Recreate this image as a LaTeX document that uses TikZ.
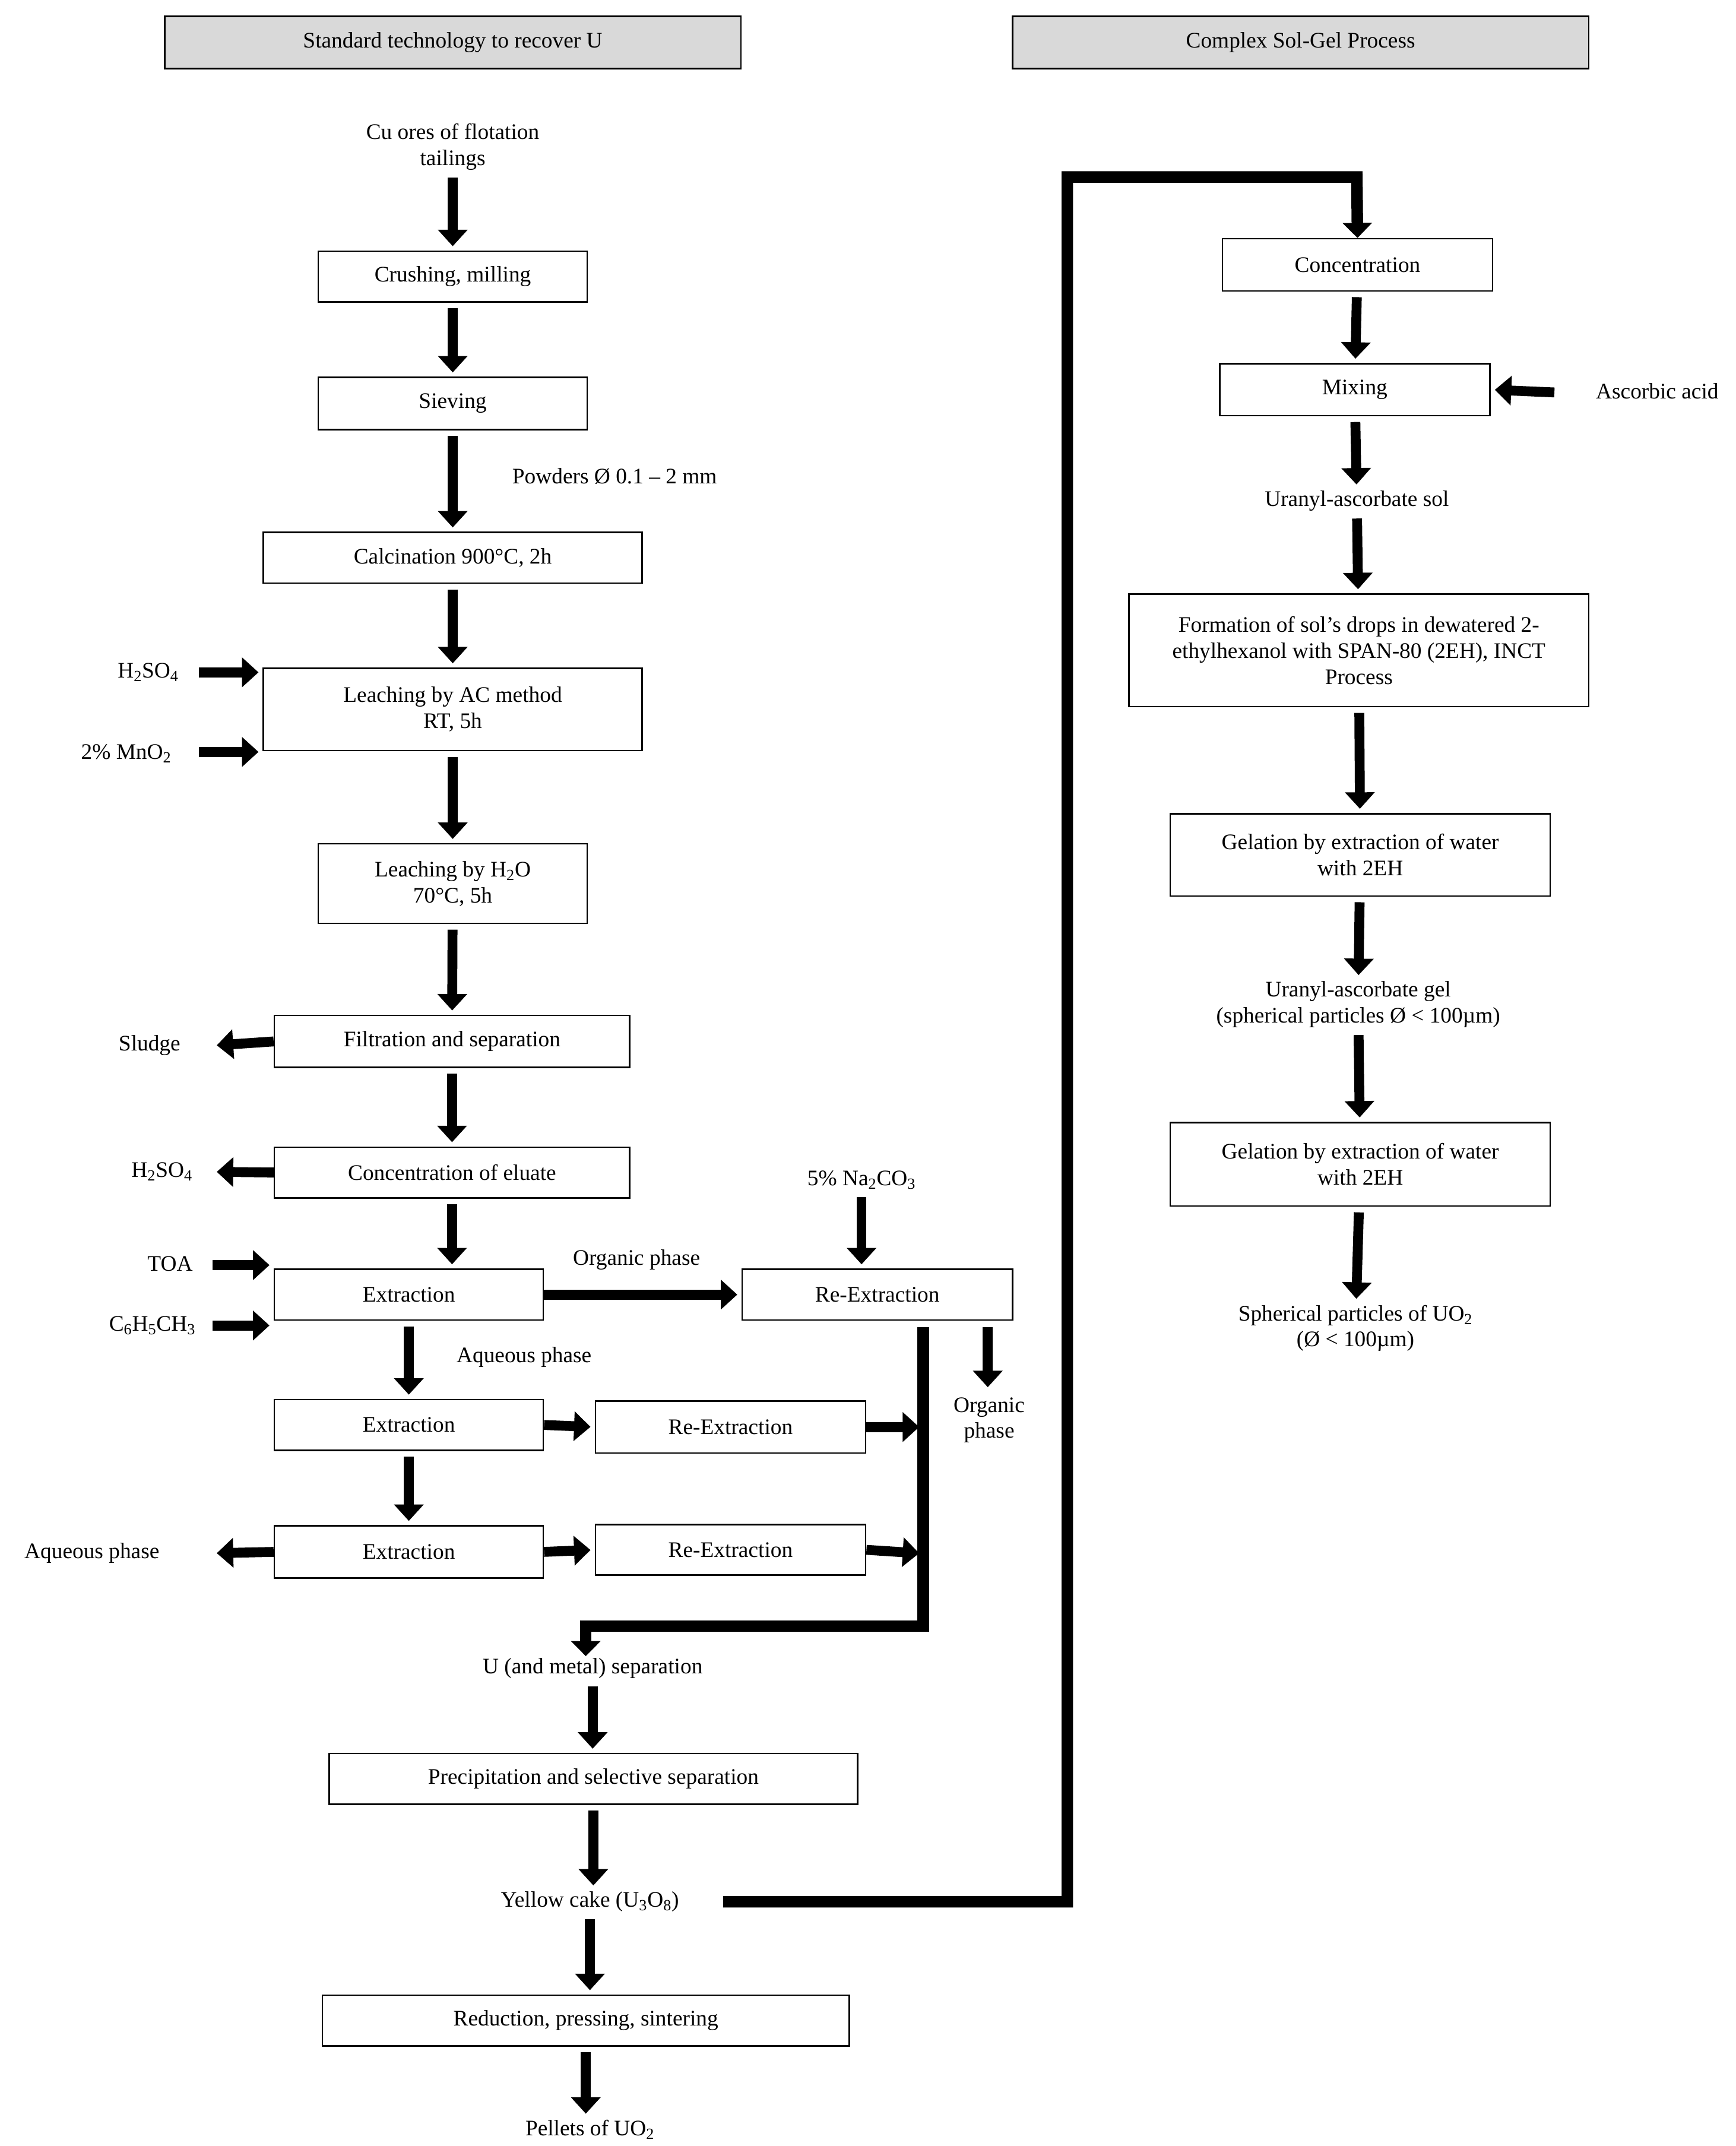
\documentclass[tikz,border=0pt]{standalone}
\usepackage{fontspec}
\setmainfont{Liberation Serif}
\usetikzlibrary{arrows.meta}
\newcommand\mybox[6]{\node[box,minimum width={(#3-#2)*0.05cm},minimum height={(#5-#4)*0.05cm}] (#1) at ({(#2+#3)/2},{(#4+#5)/2}) {#6};}
\newcommand\sub[1]{\textsubscript{#1}}
\begin{document}
\begin{tikzpicture}[x=0.05cm,y=-0.05cm,
  every node/.style={font=\fontsize{23}{27}\selectfont},
  box/.style={draw,line width=1.6pt,inner sep=0pt,align=center},
  hdr/.style={box,fill=black!15},
  txt/.style={align=center,inner sep=2pt},
  fat/.style={line width=0.36cm,-{Triangle[length=0.6cm,width=1.05cm]},shorten <=0.2cm,shorten >=0.15cm},
  route/.style={line width=0.42cm,miter limit=10}]
\useasboundingbox (0,0) rectangle (1265,1564);
% headers
\mybox{h1}{120}{540}{12}{50}{Standard technology to recover U}
\path (h1) node[hdr,minimum width=420*0.05cm,minimum height=38*0.05cm]{Standard technology to recover U};
\mybox{h2}{738}{1158}{12}{50}{}
\path (h2) node[hdr,minimum width=420*0.05cm,minimum height=38*0.05cm]{Complex Sol-Gel Process};
% left column
\node[txt] (ore) at (330,107) {Cu ores of flotation\\tailings};
\mybox{crush}{232}{428}{183}{220}{Crushing, milling}
\mybox{siev}{232}{428}{275}{313}{Sieving}
\mybox{calc}{192}{468}{388}{425}{Calcination 900°C, 2h}
\mybox{leach}{192}{468}{487}{547}{Leaching by AC method\\RT, 5h}
\mybox{leachw}{232}{428}{615}{673}{Leaching by H\sub{2}O\\70°C, 5h}
\mybox{filt}{200}{459}{740}{778}{Filtration and separation}
\mybox{conc}{200}{459}{836}{873}{Concentration of eluate}
\mybox{ex1}{200}{396}{925}{962}{Extraction}
\mybox{re1}{541}{738}{925}{962}{Re-Extraction}
\mybox{ex2}{200}{396}{1020}{1057}{Extraction}
\mybox{re2}{434}{631}{1021}{1059}{Re-Extraction}
\mybox{ex3}{200}{396}{1112}{1150}{Extraction}
\mybox{re3}{434}{631}{1111}{1148}{Re-Extraction}
\mybox{prec}{240}{625}{1278}{1315}{Precipitation and selective separation}
\mybox{red}{235}{619}{1454}{1491}{Reduction, pressing, sintering}
\node[txt] (pow) at (448,347) {Powders Ø 0.1 – 2 mm};
\node[txt] (h2so4a) at (108,490) {H\sub{2}SO\sub{4}};
\node[txt] (mno2) at (92,549) {2\% MnO\sub{2}};
\node[txt] (sludge) at (109,762) {Sludge};
\node[txt] (h2so4b) at (118,854) {H\sub{2}SO\sub{4}};
\node[txt] (toa) at (124,921) {TOA};
\node[txt] (tol) at (111,966) {C\sub{6}H\sub{5}CH\sub{3}};
\node[txt] (org) at (464,918) {Organic phase};
\node[txt] (na) at (628,860) {5\% Na\sub{2}CO\sub{3}};
\node[txt] (org2) at (721,1035) {Organic\\phase};
\node[txt] (aq) at (382,989) {Aqueous phase};
\node[txt] (aq2) at (67,1132) {Aqueous phase};
\node[txt] (usep) at (432,1216) {U (and metal) separation};
\node[txt] (yc) at (430,1386) {Yellow cake (U\sub{3}O\sub{8})};
\node[txt] (pel) at (430,1552) {Pellets of UO\sub{2}};
\coordinate (a1) at (145,490); \coordinate (a2) at (145,548);
\coordinate (s1) at (155,762); \coordinate (s2) at (155,854);
\coordinate (t1) at (155,922); \coordinate (t2) at (155,966);
\coordinate (aqe) at (155,1132);
\coordinate (o1) at (720,967); \coordinate (o2) at (720,1014);
\coordinate (j2) at (670,1040); \coordinate (j3) at (670,1132);
% left arrows
\draw[fat] (ore) -- (crush);
\draw[fat] (crush) -- (siev);
\draw[fat] (siev) -- (calc);
\draw[fat] (calc) -- (leach);
\draw[fat,shorten <=0] (a1) -- (a1 -| leach.west);
\draw[fat,shorten <=0] (a2) -- (a2 -| leach.west);
\draw[fat] (leach) -- (leachw);
\draw[fat] (leachw) -- (filt);
\draw[fat,shorten <=0] (filt.west) -- (s1);
\draw[fat] (filt) -- (conc);
\draw[fat,shorten <=0] (conc.west) -- (s2);
\draw[fat] (conc.south) -- (conc.south |- ex1.north);
\draw[fat,shorten <=0] (t1) -- (t1 -| ex1.west);
\draw[fat,shorten <=0] (t2) -- (t2 -| ex1.west);
\draw[fat,shorten <=0] (ex1.east) -- (re1.west);
\draw[fat] (na) -- (na |- re1.north);
\draw[fat,shorten <=0] (o1) -- (o2);
\draw[fat] (ex1) -- (ex2);
\draw[fat,shorten <=0] (ex2.east) -- (re2.west);
\draw[fat,shorten <=0,shorten >=0] (re2.east) -- (j2);
\draw[fat] (ex2) -- (ex3);
\draw[fat,shorten <=0] (ex3.west) -- (aqe);
\draw[fat,shorten <=0] (ex3.east) -- (re3.west);
\draw[fat,shorten <=0,shorten >=0] (re3.east) -- (j3);
\coordinate (r0) at (673,967);
\draw[route,-{Triangle[length=0.55cm,width=1.05cm]}] (r0) -- (673,1185) -- (427,1185) -- (427,1207);
\draw[fat] (usep) -- (usep |- prec.north);
\draw[fat] (prec.south) -- (prec.south |- yc.north);
\draw[fat] (yc.south) -- (yc.south |- red.north);
\draw[fat] (red.south) -- (red.south |- pel.north);
% right column
\mybox{rconc}{891}{1088}{174}{212}{Concentration}
\mybox{mix}{889}{1086}{265}{303}{Mixing}
\node[txt] (asc) at (1208,285) {Ascorbic acid};
\node[txt] (sol) at (989,365) {Uranyl-ascorbate sol};
\mybox{form}{823}{1158}{433}{515}{Formation of sol’s drops in dewatered 2-\\ethylhexanol with SPAN-80 (2EH), INCT\\Process}
\mybox{gel1}{853}{1130}{593}{653}{Gelation by extraction of water\\with 2EH}
\node[txt] (gel) at (990,732) {Uranyl-ascorbate gel\\(spherical particles Ø < 100µm)};
\mybox{gel2}{853}{1130}{818}{879}{Gelation by extraction of water\\with 2EH}
\node[txt] (sph) at (988,968) {Spherical particles of UO\sub{2}\\(Ø < 100µm)};
\coordinate (ycend) at (527,1386);
\draw[route,-{Triangle[length=0.55cm,width=1.05cm]}] (ycend) -- (778,1386) -- (778,129) -- (989,129) -- (rconc.north);
\draw[fat] (rconc) -- (mix);
\coordinate (ac) at (1133,286);
\draw[fat,shorten <=0] (ac) -- (mix.east);
\draw[fat] (mix) -- (sol);
\draw[fat] (sol) -- (form);
\draw[fat] (form) -- (gel1);
\draw[fat] (gel1) -- (gel);
\draw[fat] (gel) -- (gel2);
\draw[fat] (gel2) -- (sph);
\end{tikzpicture}
\end{document}
